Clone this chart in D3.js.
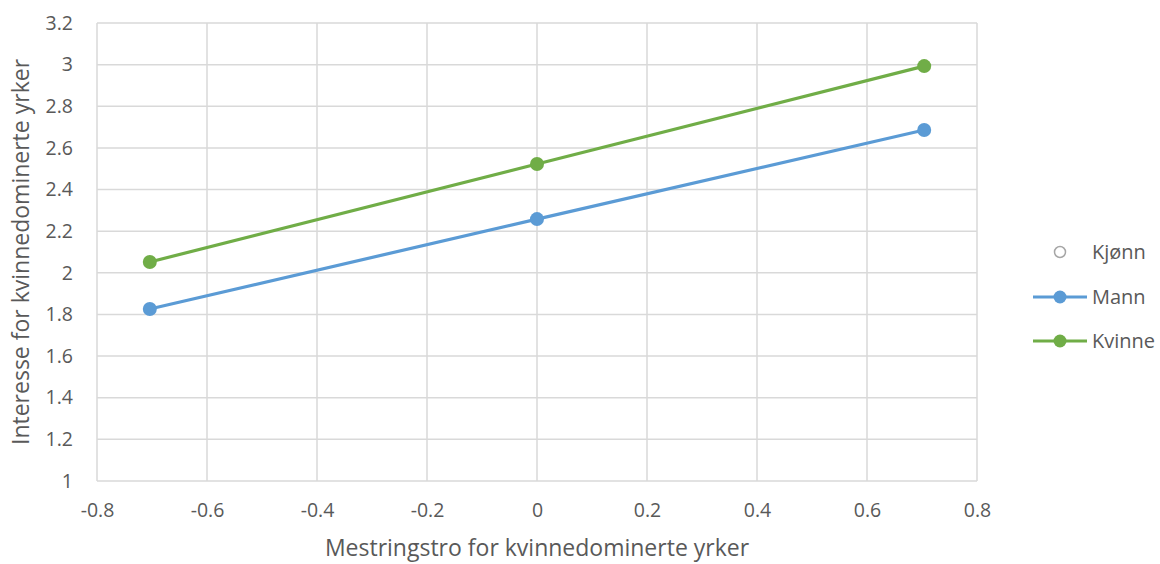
<!DOCTYPE html>
<html><head><meta charset="utf-8">
<script src="https://cdn.jsdelivr.net/npm/d3@7"></script>
<style>body{margin:0;background:#fff}svg{display:block}text{font-family:"Open Sans","Liberation Sans",sans-serif;fill:#595959}</style>
</head><body><svg id="c" width="1160" height="564"></svg>
<script>
const xValues = [-0.704, 0, 0.704];
const mann = [1.826, 2.258, 2.686];
const kvinne = [2.052, 2.523, 2.993];
const seriesNames = ["Mann", "Kvinne"];
const seriesColors = ["#5b9bd5", "#70ad47"];
const xTicks = [-0.8, -0.6, -0.4, -0.2, 0, 0.2, 0.4, 0.6, 0.8];
const yTicks = [1, 1.2, 1.4, 1.6, 1.8, 2, 2.2, 2.4, 2.6, 2.8, 3, 3.2];
const xTitle = "Mestringstro for kvinnedominerte yrker";
const yTitle = "Interesse for kvinnedominerte yrker";
const legendTitle = "Kjønn";

const svg = d3.select("#c");
const L = 97, R = 977, T = 23, B = 481;
const x = d3.scaleLinear().domain([-0.8, 0.8]).range([L, R]);
const y = d3.scaleLinear().domain([1, 3.2]).range([B, T]);

const grid = svg.append("g");
grid.selectAll(".gx").data(xTicks).enter().append("line")
  .attr("x1", d => x(d)).attr("x2", d => x(d)).attr("y1", T).attr("y2", B)
  .attr("stroke", "#d9d9d9").attr("stroke-width", 1.5);
grid.selectAll(".gy").data(yTicks).enter().append("line")
  .attr("x1", L).attr("x2", R).attr("y1", d => y(d)).attr("y2", d => y(d))
  .attr("stroke", "#d9d9d9").attr("stroke-width", 1.5);

const xAxis = svg.append("g").attr("transform", `translate(0,${B})`)
  .call(d3.axisBottom(x).tickValues(xTicks).tickSize(0).tickPadding(22).tickFormat(d => String(+d.toFixed(1))));
xAxis.select(".domain").remove();
xAxis.selectAll("text").style("font-size", "19.5px").attr("fill", "#595959");

const yAxis = svg.append("g").attr("transform", `translate(${L},0)`)
  .call(d3.axisLeft(y).tickValues(yTicks).tickSize(0).tickPadding(24).tickFormat(d => String(+d.toFixed(1))));
yAxis.select(".domain").remove();
yAxis.selectAll("text").style("font-size", "19.5px").attr("fill", "#595959");

svg.append("text").attr("x", (L + R) / 2).attr("y", 556).attr("text-anchor", "middle")
  .style("font-size", "23px").text(xTitle);
svg.append("text").attr("transform", `translate(29,${(T + B) / 2}) rotate(-90)`).attr("text-anchor", "middle")
  .style("font-size", "23px").text(yTitle);

const data = [mann, kvinne];
const line = d3.line().x((d, i) => x(xValues[i])).y(d => y(d));
data.forEach((s, k) => {
  svg.append("path").datum(s).attr("d", line).attr("fill", "none")
    .attr("stroke", seriesColors[k]).attr("stroke-width", 3.2);
  svg.selectAll(null).data(s).enter().append("circle")
    .attr("cx", (d, i) => x(xValues[i])).attr("cy", d => y(d)).attr("r", 7)
    .attr("fill", seriesColors[k]);
});

// legend
const lg = svg.append("g");
lg.append("circle").attr("cx", 1060).attr("cy", 252).attr("r", 5.5).attr("fill", "none")
  .attr("stroke", "#a6a6a6").attr("stroke-width", 1.5);
lg.append("text").attr("x", 1092).attr("y", 259).style("font-size", "20px").text(legendTitle);
seriesNames.forEach((n, k) => {
  const yy = 297 + k * 44;
  lg.append("line").attr("x1", 1033).attr("x2", 1087).attr("y1", yy).attr("y2", yy)
    .attr("stroke", seriesColors[k]).attr("stroke-width", 3.2);
  lg.append("circle").attr("cx", 1060).attr("cy", yy).attr("r", 6.5).attr("fill", seriesColors[k]);
  lg.append("text").attr("x", 1092).attr("y", yy + 7).style("font-size", "20px").text(n);
});
</script></body></html>
